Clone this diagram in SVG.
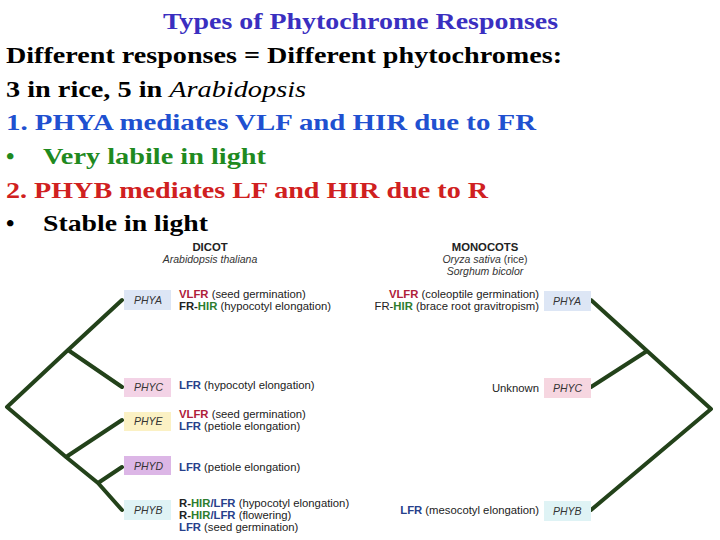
<svg xmlns="http://www.w3.org/2000/svg" width="720" height="540" viewBox="0 0 720 540">
<style>
.h{font-family:"Liberation Serif",serif;font-weight:bold;font-size:24px}
.s{font-family:"Liberation Sans",Arial,sans-serif;font-size:11.3px;fill:#222}
.b{font-weight:bold}
.n{font-family:"Liberation Sans",Arial,sans-serif;font-size:10.5px;font-style:italic;fill:#333}
.r{fill:#b0203a}.g{fill:#2e7d2e}.u{fill:#27408b}
.tree{fill:none;stroke:#23421a;stroke-width:4;stroke-linecap:round;stroke-linejoin:round}
</style>
<rect width="720" height="540" fill="#fff"/>
<text x="163" y="29" class="h" style="fill:#3a2fc0" textLength="395" lengthAdjust="spacingAndGlyphs">Types of Phytochrome Responses</text>
<text x="6" y="63" class="h" textLength="556" lengthAdjust="spacingAndGlyphs">Different responses = Different phytochromes:</text>
<text x="6" y="97" class="h" textLength="300" lengthAdjust="spacingAndGlyphs">3 in rice, 5 in <tspan font-style="italic" font-weight="normal">Arabidopsis</tspan></text>
<text x="6" y="130" class="h" style="fill:#2050d0" textLength="530" lengthAdjust="spacingAndGlyphs">1.  PHYA mediates VLF and HIR due to FR</text>
<text x="6" y="164" class="h" style="fill:#1f8a1f"><tspan>•</tspan><tspan x="43" textLength="223" lengthAdjust="spacingAndGlyphs">Very labile in light</tspan></text>
<text x="6" y="198" class="h" style="fill:#d02020" textLength="482" lengthAdjust="spacingAndGlyphs">2. PHYB mediates LF and HIR due to R</text>
<text x="6" y="231" class="h"><tspan>•</tspan><tspan x="43" textLength="165" lengthAdjust="spacingAndGlyphs">Stable in light</tspan></text>

<g id="connectors" class="tree">
<path d="M122,300 L68,350 L122,387 M68,350 L7,407 L66,457 L122,420 M66,457 L98,483 L122,467 M98,483 L122,510"/>
<path d="M591,300 L711,409 L591,510 M647,351 L591,387"/>
</g>

<g id="dicot-head"><text x="210" y="251" text-anchor="middle" class="s b">DICOT</text>
<text x="210" y="263" text-anchor="middle" class="n">Arabidopsis thaliana</text></g>
<g id="mono-head"><text x="485" y="251" text-anchor="middle" class="s b">MONOCOTS</text>
<text x="485" y="263" text-anchor="middle" class="n">Oryza sativa <tspan font-style="normal">(rice)</tspan></text>
<text x="485" y="275" text-anchor="middle" class="n">Sorghum bicolor</text></g>

<g id="d-phya"><rect x="124" y="290" width="47" height="20" fill="#dde6f5"/><text x="134" y="304" class="n">PHYA</text>
<text x="179" y="298" class="s"><tspan class="b r">VLFR</tspan> (seed germination)</text>
<text x="179" y="310" class="s"><tspan class="b">FR-</tspan><tspan class="b g">HIR</tspan> (hypocotyl elongation)</text></g>
<g id="d-phyc"><rect x="124" y="378" width="47" height="19" fill="#f3d3e6"/><text x="134" y="391" class="n">PHYC</text>
<text x="179" y="389" class="s"><tspan class="b u">LFR</tspan> (hypocotyl elongation)</text></g>
<g id="d-phye"><rect x="124" y="412" width="47" height="19" fill="#fbf1c4"/><text x="134" y="425" class="n">PHYE</text>
<text x="179" y="418" class="s"><tspan class="b r">VLFR</tspan> (seed germination)</text>
<text x="179" y="430" class="s"><tspan class="b u">LFR</tspan> (petiole elongation)</text></g>
<g id="d-phyd"><rect x="124" y="456" width="47" height="19" fill="#dcb6e6"/><text x="134" y="470" class="n">PHYD</text>
<text x="179" y="471" class="s"><tspan class="b u">LFR</tspan> (petiole elongation)</text></g>
<g id="d-phyb"><rect x="124" y="500" width="47" height="20" fill="#dff3f5"/><text x="134" y="514" class="n">PHYB</text>
<text x="179" y="507" class="s"><tspan class="b">R-</tspan><tspan class="b g">HIR</tspan><tspan class="b u">/LFR</tspan> (hypocotyl elongation)</text>
<text x="179" y="519" class="s"><tspan class="b">R-</tspan><tspan class="b g">HIR</tspan><tspan class="b u">/LFR</tspan> (flowering)</text>
<text x="179" y="531" class="s"><tspan class="b u">LFR</tspan> (seed germination)</text></g>

<g id="m-phya"><rect x="544" y="291" width="47" height="20" fill="#dde6f5"/><text x="553" y="305" class="n">PHYA</text>
<text x="539" y="298" text-anchor="end" class="s"><tspan class="b r">VLFR</tspan> (coleoptile germination)</text>
<text x="539" y="310" text-anchor="end" class="s">FR-<tspan class="b g">HIR</tspan> (brace root gravitropism)</text></g>
<g id="m-phyc"><rect x="544" y="378" width="47" height="20" fill="#f6d6e0"/><text x="553" y="392" class="n">PHYC</text>
<text x="539" y="392" text-anchor="end" class="s">Unknown</text></g>
<g id="m-phyb"><rect x="544" y="501" width="47" height="20" fill="#dff3f5"/><text x="553" y="515" class="n">PHYB</text>
<text x="539" y="514" text-anchor="end" class="s"><tspan class="b u">LFR</tspan> (mesocotyl elongation)</text></g>
</svg>
